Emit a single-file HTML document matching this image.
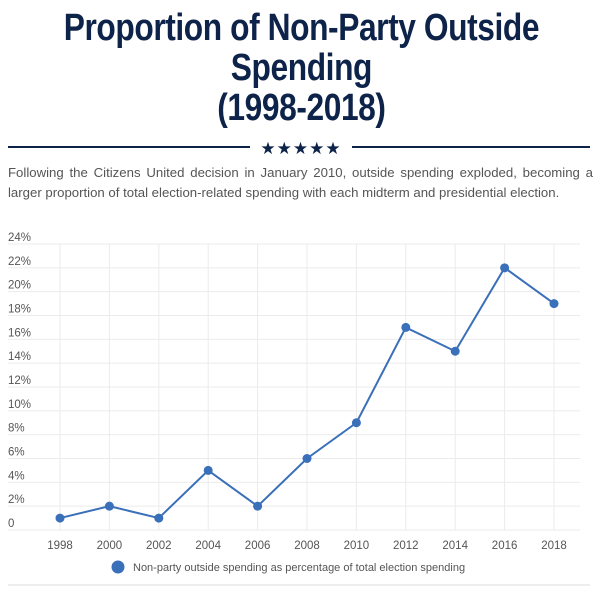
<!DOCTYPE html>
<html><head><meta charset="utf-8"><style>
body{margin:0;width:603px;height:594px;background:#fff;overflow:hidden;font-family:"Liberation Sans",sans-serif;}
#title{position:absolute;left:0;top:8px;width:603px;text-align:center;font-weight:bold;font-size:38px;line-height:40px;color:#0d2349;letter-spacing:-0.5px;transform:scaleX(0.835);transform-origin:301px 0;}
#desc{position:absolute;left:8px;top:163px;width:585px;font-size:13.2px;line-height:20px;color:#555;text-align:justify;text-align-last:left;}
svg{position:absolute;left:0;top:0;}
</style></head><body>
<div id="title">Proportion of Non-Party Outside<br>Spending<br>(1998-2018)</div>
<div id="desc">Following the Citizens United decision in January 2010, outside spending exploded, becoming a larger proportion of total election-related spending with each midterm and presidential election.</div>
<svg id="chart" width="603" height="594">
<line x1="8" y1="147" x2="250" y2="147" stroke="#0d2349" stroke-width="2"/>
<line x1="352" y1="147" x2="590" y2="147" stroke="#0d2349" stroke-width="2"/>
<text x="301" y="154" text-anchor="middle" font-size="17" fill="#0d2349" letter-spacing="1">★★★★★</text>
<line x1="8" y1="585" x2="590" y2="585" stroke="#ddd" stroke-width="1"/>
</svg>
<script>
const years=["1998","2000","2002","2004","2006","2008","2010","2012","2014","2016","2018"];
const values=[1,2,1,5,2,6,9,17,15,22,19];
const yTicks=[0,2,4,6,8,10,12,14,16,18,20,22,24];
const seriesName="Non-party outside spending as percentage of total election spending";
const svg=document.getElementById('chart');
const NS="http://www.w3.org/2000/svg";
const x0=60,x1=554,y0=530,y1=244;
const xs=i=>x0+(x1-x0)*i/(years.length-1);
const ys=v=>y0-(y0-y1)*v/24;
function mk(t,a){const e=document.createElementNS(NS,t);for(const k in a)e.setAttribute(k,a[k]);svg.appendChild(e);return e;}
yTicks.forEach(v=>{
 const l=mk('line',{x1:8,x2:580,y1:ys(v),y2:ys(v),stroke:'#ebebeb'});
 
 
 const t=mk('text',{x:8,y:ys(v)-3,'font-size':11.5,fill:'#555'});
 t.textContent=v===0?'0':v+'%';
 
 
});
years.forEach((yr,i)=>{
 const l=mk('line',{x1:xs(i),x2:xs(i),y1:y1,y2:y0,stroke:'#ebebeb'});
 
 
 const t=mk('text',{x:xs(i),y:549,'font-size':11.5,fill:'#555','text-anchor':'middle'});
 t.textContent=yr;
 
 
});
const p=mk('polyline',{points:values.map((v,i)=>xs(i)+','+ys(v)).join(' '),fill:'none',stroke:'#3a6fb9','stroke-width':2});


values.forEach((v,i)=>{
 const c=mk('circle',{cx:xs(i),cy:ys(v),r:4.5,fill:'#3a6fb9'});
 
 
});
const lc=mk('circle',{cx:118,cy:567,r:6.5,fill:'#3a6fb9'});


const lt=mk('text',{x:133,y:571,'font-size':11,fill:'#555'});
lt.textContent=seriesName;


</script>
</body></html>
